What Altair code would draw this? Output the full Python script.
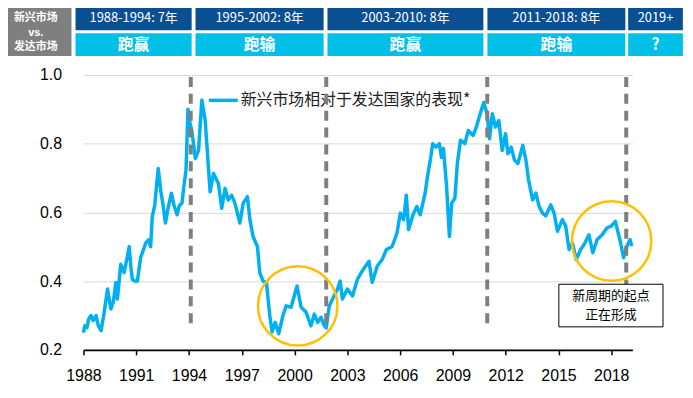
import altair as alt
import pandas as pd

# ---- main series ----
years = [1988.00, 1988.08, 1988.20, 1988.30, 1988.43, 1988.55, 1988.72, 1988.85, 1989.00, 1989.15,
         1989.37, 1989.56, 1989.70, 1989.84, 1989.93, 1990.12, 1990.31, 1990.45, 1990.60, 1990.70,
         1990.78, 1990.95, 1991.06, 1991.25, 1991.40, 1991.54, 1991.70, 1991.82, 1991.91, 1992.05,
         1992.25, 1992.40, 1992.50, 1992.66, 1992.80, 1993.00, 1993.15, 1993.32, 1993.45, 1993.60,
         1993.72, 1993.83, 1993.94, 1994.05, 1994.16, 1994.36, 1994.54, 1994.73, 1994.92, 1995.10,
         1995.20, 1995.39, 1995.67, 1995.86, 1996.05, 1996.23, 1996.42, 1996.61, 1996.89, 1997.08,
         1997.32, 1997.46, 1997.64, 1997.89, 1998.02, 1998.21, 1998.40, 1998.59, 1998.72, 1998.90,
         1999.10, 1999.34, 1999.52, 1999.80, 2000.14, 2000.37, 2000.65, 2000.93, 2001.12, 2001.31,
         2001.50, 2001.69, 2001.80, 2001.97, 2002.16, 2002.44, 2002.59, 2002.72, 2003.00, 2003.29,
         2003.57, 2003.85, 2004.23, 2004.41, 2004.70, 2004.98, 2005.22, 2005.54, 2005.82, 2006.01,
         2006.20, 2006.35, 2006.48, 2006.73, 2006.95, 2007.14, 2007.42, 2007.55, 2007.74, 2007.85,
         2008.04, 2008.23, 2008.35, 2008.46, 2008.64, 2008.80, 2008.93, 2009.11, 2009.25, 2009.43,
         2009.68, 2009.87, 2010.15, 2010.33, 2010.52, 2010.75, 2010.94, 2011.08, 2011.24, 2011.42,
         2011.61, 2011.80, 2011.99, 2012.12, 2012.31, 2012.50, 2012.69, 2012.97, 2013.15, 2013.30,
         2013.53, 2013.72, 2013.90, 2014.09, 2014.28, 2014.56, 2014.75, 2014.94, 2015.22, 2015.41,
         2015.60, 2015.79, 2016.01, 2016.26, 2016.45, 2016.73, 2016.95, 2017.20, 2017.48, 2017.76,
         2018.00, 2018.23, 2018.51, 2018.70, 2018.89, 2019.07, 2019.16]
values = [0.250, 0.270, 0.265, 0.290, 0.300, 0.285, 0.300, 0.270, 0.256, 0.300,
          0.377, 0.319, 0.340, 0.396, 0.348, 0.449, 0.425, 0.460, 0.500, 0.440,
          0.405, 0.400, 0.400, 0.468, 0.490, 0.511, 0.520, 0.500, 0.588, 0.620,
          0.728, 0.660, 0.630, 0.569, 0.610, 0.656, 0.620, 0.593, 0.620, 0.627,
          0.680, 0.723, 0.900, 0.860, 0.838, 0.757, 0.780, 0.927, 0.867, 0.733,
          0.660, 0.713, 0.684, 0.612, 0.670, 0.636, 0.650, 0.627, 0.569, 0.627,
          0.646, 0.579, 0.530, 0.500, 0.425, 0.400, 0.396, 0.300, 0.252, 0.280,
          0.247, 0.300, 0.328, 0.324, 0.386, 0.324, 0.310, 0.270, 0.304, 0.280,
          0.295, 0.270, 0.264, 0.328, 0.348, 0.377, 0.400, 0.348, 0.377, 0.357,
          0.405, 0.430, 0.458, 0.396, 0.444, 0.463, 0.492, 0.500, 0.540, 0.598,
          0.579, 0.650, 0.550, 0.593, 0.617, 0.593, 0.656, 0.703, 0.761, 0.800,
          0.790, 0.800, 0.760, 0.786, 0.675, 0.530, 0.627, 0.641, 0.742, 0.810,
          0.800, 0.838, 0.824, 0.848, 0.882, 0.920, 0.887, 0.814, 0.887, 0.848,
          0.867, 0.780, 0.829, 0.771, 0.790, 0.752, 0.742, 0.795, 0.752, 0.694,
          0.636, 0.656, 0.617, 0.598, 0.590, 0.622, 0.598, 0.545, 0.579, 0.560,
          0.492, 0.511, 0.463, 0.492, 0.506, 0.535, 0.483, 0.521, 0.535, 0.555,
          0.560, 0.574, 0.516, 0.468, 0.502, 0.521, 0.502]
series_name = "新兴市场相对于发达国家的表现*"

# ---- legend key placement (in data units) ----
legend_x = [1995.13]
legend_x2 = [1996.77]
legend_y = [0.926]

# ---- header table ----
period_start = [1987.55, 1994.37, 2001.87, 2010.96, 2018.96]
period_end = [1994.15, 2001.65, 2010.73, 2018.80, 2022.07]
period_labels = ["1988-1994: 7年", "1995-2002: 8年", "2003-2010: 8年", "2011-2018: 8年", "2019+"]
period_results = ["跑赢", "跑输", "跑赢", "跑输", "?"]
corner_start = [1983.26]
corner_end = [1987.32]
corner_lines = ["新兴市场", "vs.", "发达市场"]

# ---- cycle boundaries / annotations ----
boundaries = [1994.1, 2001.8, 2010.95, 2018.85]
circle_x = [2000.18, 2018.02]
circle_y = [0.328, 0.517]
note_x = [2015.02]
note_x2 = [2020.94]
note_y = [0.391]
note_y2 = [0.267]
note_lines = ["新周期的起点", "正在形成"]

x_ticks = list(range(1988, 2019, 3))
y_ticks = [0.2, 0.4, 0.6, 0.8, 1.0]

CJK = "Noto Sans CJK SC"
LAT = "Liberation Sans"
BLUE = "#00b0f0"

xs = alt.Scale(domain=[1988, 2019.2], nice=False, zero=False)
ys = alt.Scale(domain=[0.2, 1.0], nice=False, zero=False)

df = pd.DataFrame({"year": years, "value": values})
df_l = pd.DataFrame({"x": legend_x, "x2": legend_x2, "y": legend_y, "t": [series_name]})
df_b = pd.DataFrame({"year": boundaries})
df_c = pd.DataFrame({"year": circle_x, "value": circle_y})
df_n = pd.DataFrame({"x": note_x, "x2": note_x2, "y": note_y, "y2": note_y2})
note_xm = (note_x[0] + note_x2[0]) / 2
note_ym = (note_y[0] + note_y2[0]) / 2
line_step = 0.0548  # one text line (~19 px) in data units
df_nt = pd.DataFrame({
    "t": note_lines,
    "xm": [note_xm] * len(note_lines),
    "ym": [note_ym + line_step * ((len(note_lines) - 1) / 2 - i) for i in range(len(note_lines))],
})
df_h = pd.DataFrame({"s": period_start, "e": period_end, "label": period_labels, "res": period_results})
df_h["m"] = (df_h["s"] + df_h["e"]) / 2
df_g = pd.DataFrame({"s": corner_start, "e": corner_end})
corner_mid = (corner_start[0] + corner_end[0]) / 2

line = alt.Chart(df).mark_line(strokeWidth=3.5, strokeJoin="round", color=BLUE).encode(
    x=alt.X("year:Q", scale=xs, title=None,
            axis=alt.Axis(values=x_ticks, format="d", grid=False, labelFont=LAT, labelFontSize=16,
                          labelColor="black", tickColor="black", tickSize=5, tickWidth=1.5,
                          domainColor="black", domainWidth=2, labelPadding=13, labelFlush=False)),
    y=alt.Y("value:Q", scale=ys, title=None,
            axis=alt.Axis(values=y_ticks, format=".1f", grid=True, gridColor="#d9d9d9", gridWidth=1,
                          domain=False, ticks=False, labelFont=LAT, labelFontSize=16,
                          labelColor="black", labelPadding=22)),
)

legend_key = alt.Chart(df_l).mark_rule(color=BLUE, strokeWidth=3.5).encode(
    x=alt.X("x:Q", scale=xs), x2="x2:Q", y=alt.Y("y:Q", scale=ys),
)
legend_txt = alt.Chart(df_l).mark_text(font=CJK, fontSize=16, color="#222222", align="left",
                                       baseline="middle", dx=3).encode(
    x=alt.X("x2:Q", scale=xs), y=alt.Y("y:Q", scale=ys), text="t:N",
)

rules = alt.Chart(df_b).mark_rule(color="#7f7f7f", strokeWidth=4, strokeDash=[10, 7]).encode(
    x=alt.X("year:Q", scale=xs),
    y=alt.datum(0.994, scale=ys),
    y2=alt.datum(0.26),
)

circles = alt.Chart(df_c).mark_point(shape="circle", size=6400, filled=False,
                                     stroke="#ffc000", strokeWidth=2.5, opacity=1).encode(
    x=alt.X("year:Q", scale=xs),
    y=alt.Y("value:Q", scale=ys),
)

note_box = alt.Chart(df_n).mark_rect(fill="white", stroke="black", strokeWidth=1).encode(
    x=alt.X("x:Q", scale=xs), x2="x2:Q",
    y=alt.Y("y:Q", scale=ys), y2="y2:Q",
)
note_txt = alt.Chart(df_nt).mark_text(font=CJK, fontSize=13, color="black",
                                      align="center", baseline="middle").encode(
    x=alt.X("xm:Q", scale=xs), y=alt.Y("ym:Q", scale=ys), text="t:N",
)

hdr_top = alt.Chart(df_h).mark_rect(fill="#0b4f93").encode(
    x=alt.X("s:Q", scale=xs), x2="e:Q", y=alt.value(-70), y2=alt.value(-45),
)
hdr_bot = alt.Chart(df_h).mark_rect(fill="#00c0e8").encode(
    x=alt.X("s:Q", scale=xs), x2="e:Q", y=alt.value(-42), y2=alt.value(-19),
)
hdr_top_txt = alt.Chart(df_h).mark_text(font=CJK, fontSize=13, color="white",
                                        align="center", baseline="middle").encode(
    x=alt.X("m:Q", scale=xs), y=alt.value(-57), text="label:N",
)
hdr_bot_txt = alt.Chart(df_h).mark_text(font=CJK, fontSize=16, fontWeight="bold", color="white",
                                        align="center", baseline="middle").encode(
    x=alt.X("m:Q", scale=xs), y=alt.value(-30.5), text="res:N",
)
corner = alt.Chart(df_g).mark_rect(fill="#7f7f7f").encode(
    x=alt.X("s:Q", scale=xs), x2="e:Q", y=alt.value(-70), y2=alt.value(-19),
)
corner_offsets = [-57, -42.5, -28]
corner_fonts = [CJK, LAT, CJK]
corner_sizes = [11, 11, 11]
corner_txt_layers = [
    alt.Chart(pd.DataFrame({"m": [corner_mid], "t": [txt]})).mark_text(
        font=fnt, fontSize=fs, fontWeight="bold", color="white",
        align="center", baseline="middle").encode(
        x=alt.X("m:Q", scale=xs), y=alt.value(off), text="t:N")
    for txt, off, fnt, fs in zip(corner_lines, corner_offsets, corner_fonts, corner_sizes)
]

chart = alt.layer(
    line, legend_key, legend_txt, rules, circles, note_box, note_txt,
    hdr_top, hdr_bot, hdr_top_txt, hdr_bot_txt, corner, *corner_txt_layers,
).properties(
    width=553, height=277,
    autosize=alt.AutoSizeParams(type="none"),
    padding={"left": 76, "top": 66, "right": 53, "bottom": 39},
).configure_view(stroke=None)

chart.save("out.html", embed_options={"renderer": "svg", "actions": False})
